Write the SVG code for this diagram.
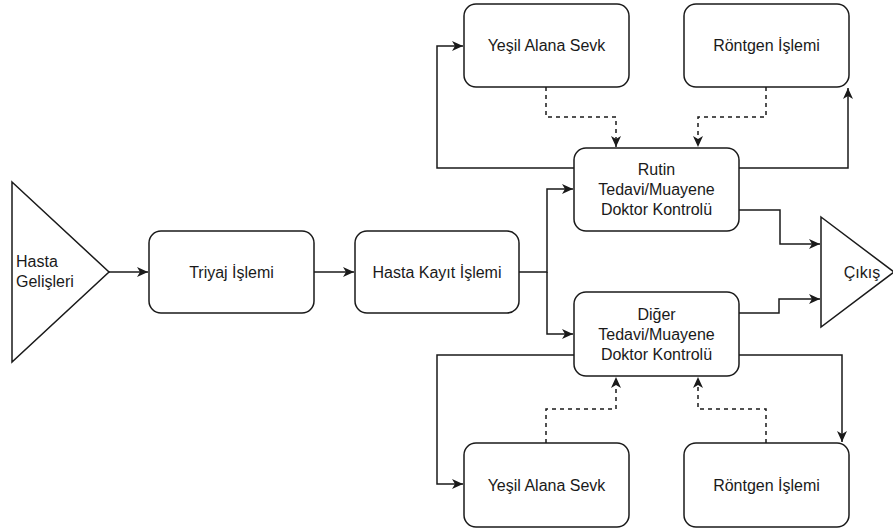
<svg xmlns="http://www.w3.org/2000/svg" width="893" height="529" viewBox="0 0 893 529">
<style>
.box{fill:#fff;stroke:#1a1a1a;stroke-width:1.5}
.t{font-family:"Liberation Sans",Arial,sans-serif;font-size:16px;fill:#1a1a1a}
.c{text-anchor:middle}
.ln{fill:none;stroke:#1a1a1a;stroke-width:1.5}
.ds{stroke-dasharray:4 4}
</style>
<defs>
<marker id="a" markerUnits="userSpaceOnUse" markerWidth="12" markerHeight="10" refX="11" refY="5" orient="auto">
<path d="M0,0 L11,5 L0,10 L3,5 z" fill="#1a1a1a"/>
</marker>
</defs>
<rect width="893" height="529" fill="#fff"/>
<g id="connectors">
<path class="ln" d="M109,272 H148" marker-end="url(#a)"/>
<path class="ln" d="M314,272 H354" marker-end="url(#a)"/>
<path class="ln" d="M519,272 H547 V189 H573" marker-end="url(#a)"/>
<path class="ln" d="M547,272 V334 H573" marker-end="url(#a)"/>
<path class="ln" d="M574,168 H437 V46 H463" marker-end="url(#a)"/>
<path class="ln" d="M739,168 H848 V88" marker-end="url(#a)"/>
<path class="ln ds" d="M546,87 V117 H616 V147" marker-end="url(#a)"/>
<path class="ln ds" d="M766,87 V117 H698 V147" marker-end="url(#a)"/>
<path class="ln" d="M739,210 H780 V244 H820" marker-end="url(#a)"/>
<path class="ln" d="M739,313 H779 V299 H820" marker-end="url(#a)"/>
<path class="ln" d="M574,355 H437 V484 H463" marker-end="url(#a)"/>
<path class="ln" d="M739,355 H842 V442" marker-end="url(#a)"/>
<path class="ln ds" d="M546,443 V409 H616 V377" marker-end="url(#a)"/>
<path class="ln ds" d="M766,443 V409 H698 V377" marker-end="url(#a)"/>
</g>
<g id="hasta-gelisleri">
<path class="box" d="M12,182 L109,272 L12,362 Z"/>
<text class="t" x="16" y="267">Hasta</text>
<text class="t" x="16" y="287">Gelişleri</text>
</g>
<g id="triyaj">
<rect class="box" x="149" y="231" width="165" height="82" rx="12"/>
<text class="t c" x="231.5" y="277.5">Triyaj İşlemi</text>
</g>
<g id="hasta-kayit">
<rect class="box" x="355" y="231" width="164" height="82" rx="12"/>
<text class="t c" x="437" y="277.5">Hasta Kayıt İşlemi</text>
</g>
<g id="yesil-top">
<rect class="box" x="464" y="4" width="165" height="83" rx="12"/>
<text class="t c" x="546.5" y="51">Yeşil Alana Sevk</text>
</g>
<g id="rontgen-top">
<rect class="box" x="684" y="4" width="165" height="83" rx="12"/>
<text class="t c" x="766.5" y="51">Röntgen İşlemi</text>
</g>
<g id="rutin">
<rect class="box" x="574" y="148" width="165" height="83" rx="12"/>
<text class="t c" x="656.5" y="175">Rutin</text>
<text class="t c" x="656.5" y="195">Tedavi/Muayene</text>
<text class="t c" x="656.5" y="215">Doktor Kontrolü</text>
</g>
<g id="diger">
<rect class="box" x="574" y="292" width="165" height="84" rx="12"/>
<text class="t c" x="656.5" y="320">Diğer</text>
<text class="t c" x="656.5" y="340">Tedavi/Muayene</text>
<text class="t c" x="656.5" y="360">Doktor Kontrolü</text>
</g>
<g id="yesil-bottom">
<rect class="box" x="464" y="443" width="165" height="84" rx="12"/>
<text class="t c" x="546.5" y="491">Yeşil Alana Sevk</text>
</g>
<g id="rontgen-bottom">
<rect class="box" x="684" y="443" width="165" height="84" rx="12"/>
<text class="t c" x="766.5" y="491">Röntgen İşlemi</text>
</g>
<g id="cikis">
<path class="box" d="M821,217 L894,272 L821,327 Z"/>
<text class="t c" x="862" y="278">Çıkış</text>
</g>
</svg>
